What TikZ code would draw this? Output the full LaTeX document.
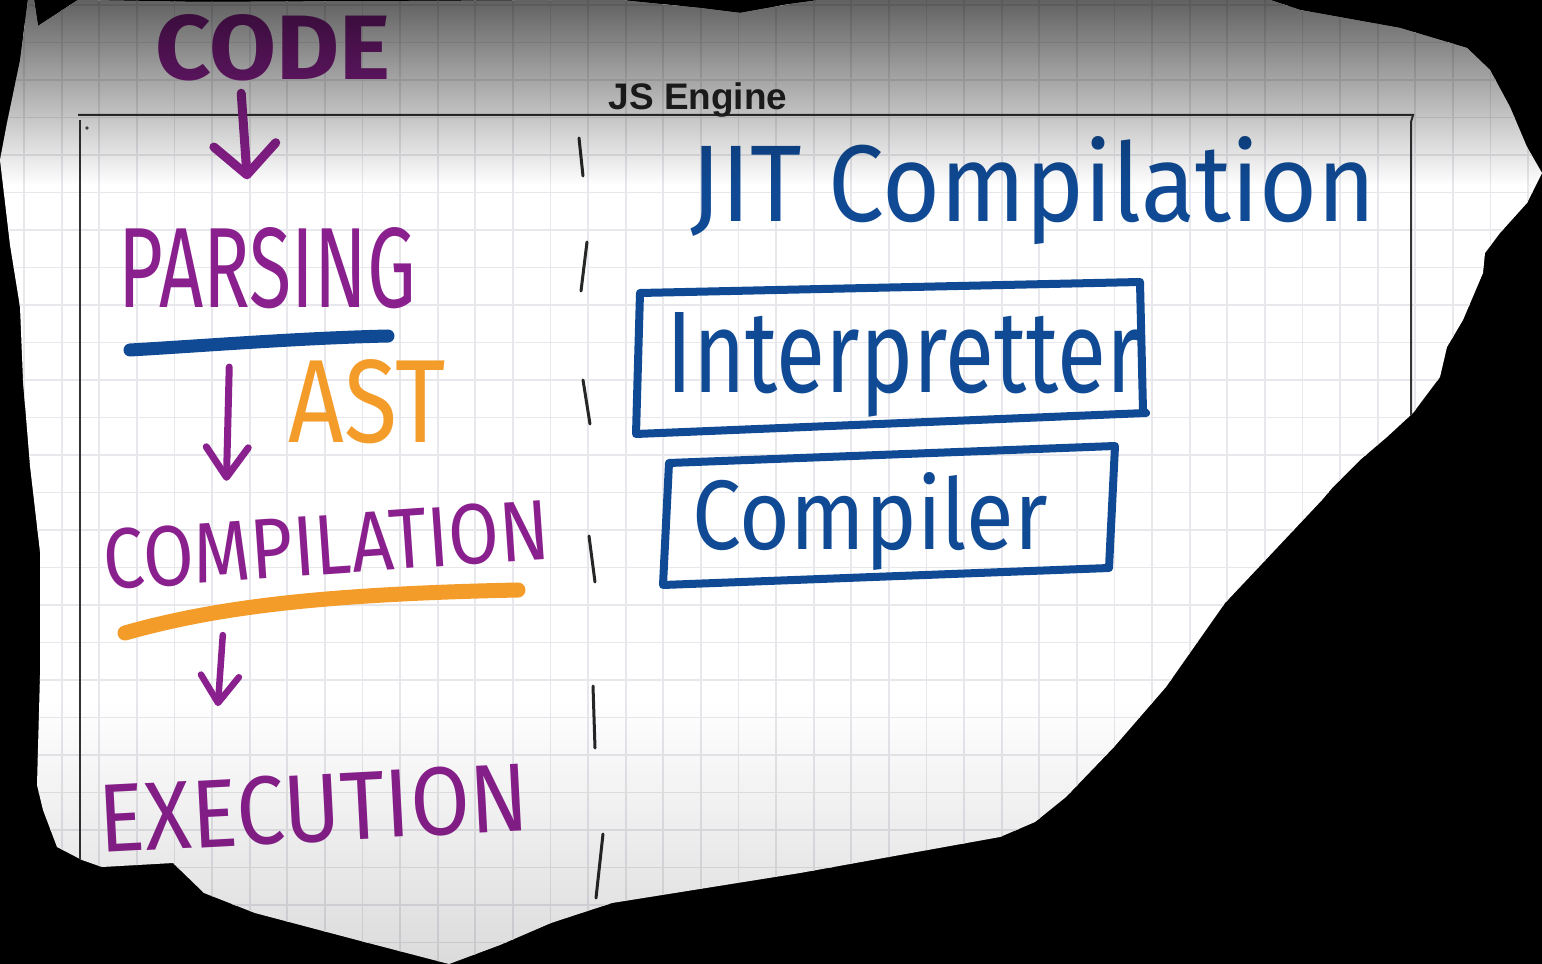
\documentclass[tikz,border=0pt]{standalone}
\usepackage{fontspec}
\usepackage{graphicx}
\setsansfont{Liberation Sans}
\newfontfamily\handfont{Fira Sans}
\usetikzlibrary{arrows.meta,fadings}

\definecolor{inkpurple}{RGB}{138,32,142}
\definecolor{inkblue}{RGB}{16,74,148}
\definecolor{inkorange}{RGB}{244,156,42}
\definecolor{gridgray}{RGB}{232,232,236}

\newlength\pxu
\setlength\pxu{0.01cm}
% handwritten word squeezed to a given width and height (in px)
\newcommand{\inkword}[3]{\resizebox{#1\pxu}{#2\pxu}{\handfont #3}}
\newcommand{\paperoutline}{(28,0) -- (34,0) -- (38,26) -- (78,0) -- (200,2) -- (620,0) -- (700,8) -- (740,13) -- (790,4) -- (820,0) -- (1270,0) -- (1300,10) -- (1400,28) -- (1467,48) -- (1490,70) -- (1510,107) -- (1527,147) -- (1542,173) -- (1527,203) -- (1500,233) -- (1485,253) -- (1483,273) -- (1463,320) -- (1447,347) -- (1440,377) -- (1413,413) -- (1387,437) -- (1360,460) -- (1333,487) -- (1322,500) -- (1225,603) -- (1166,687) -- (1114,747) -- (1066,797) -- (1035,822) -- (1000,837) -- (800,873) -- (612,903) -- (551,923) -- (500,945) -- (449,964) -- (357,940) -- (255,913) -- (204,893) -- (173,863) -- (102,867) -- (82,860) -- (57,847) -- (43,810) -- (37,785) -- (40,675) -- (40,552) -- (30,466) -- (23,380) -- (20,307) -- (10,245) -- (0,160) -- (7,123) -- (20,61) -- cycle}

\begin{document}
\begin{tikzpicture}[x=0.01cm,y=-0.01cm,
    word/.style={inner sep=0pt,anchor=base west},
    gridline/.style={gridgray,line width=0.018cm},
    divider/.style={black!85,line width=0.03cm,line cap=round},
    penarrow/.style={inkpurple,line cap=round,line join=round},
    jitbox/.style={inkblue,line width=0.08cm,line join=round,line cap=round}]
  \useasboundingbox (0,0) rectangle (1542,964);
  \fill[black] (0,0) rectangle (1542,964);
  \fill[white] \paperoutline;

  \begin{scope}
    \clip \paperoutline;
    % squared paper
    \foreach \i in {0,...,40}
      \draw[gridline] ({24+37.6*\i},0) -- ({24+37.6*\i},964);
    \foreach \j in {0,...,25}
      \draw[gridline] (0,{5+37.5*\j}) -- (1542,{5+37.5*\j});

    % engine frame
    \draw[black!80,line width=0.02cm] (78,115) -- (1413,115) -- (1411,122) -- (1411,440);
    \draw[black!80,line width=0.02cm] (80,120) -- (80,862);
    \fill[black!70] (87,128) circle[radius=0.5pt];
    \node[font=\sffamily\bfseries\fontsize{10.5}{12}\selectfont,text=black!85,anchor=base] (title) at (698,110) {JS Engine};

    % left column
    \node[word] (code) at (155,80) {\inkword{235}{65}{\color{inkpurple}\bfseries CODE}};
    \node[word] (parsing) at (118,308) {\inkword{297}{80}{\color{inkpurple}PARSING}};
    \node[word] (ast) at (288,443) {\inkword{157}{83}{\color{inkorange}AST}};
    \node[word,rotate=4] (compilation) at (105,590) {\inkword{447}{60}{\color{inkpurple}COMPILATION}};
    \node[word,rotate=3] (execution) at (100,853) {\inkword{430}{68}{\color{inkpurple}EXECUTION}};

    \draw[inkblue,line width=0.13cm,line cap=round] (130,350) .. controls (200,346) and (300,338) .. (388,336);
    \draw[inkorange,line width=0.15cm,line cap=round] (125,633) .. controls (220,606) and (330,594) .. (518,590);

    \draw[penarrow,line width=0.09cm,-{Straight Barb[round,length=0.3cm,width=0.62cm]}] ([shift={(-32,11)}]code.south) -- ([shift={(-20,-48)}]parsing.north);
    \draw[penarrow,line width=0.07cm,-{Straight Barb[round,length=0.3cm,width=0.42cm]}] ([shift={(-38,57)}]parsing.south) -- ([shift={(-98,-33)}]compilation.north);
    \draw[penarrow,line width=0.065cm,-{Straight Barb[round,length=0.27cm,width=0.38cm]}] ([shift={(-106,59)}]compilation.south) -- ([shift={(-94,-67)}]execution.north);

    % dashed divider
    \foreach \xa/\ya/\xb/\yb in {579/138/583/176, 587/242/581/291, 583/380/590/424, 589/536/595/582, 593/686/595/748, 603/834/596/898}
      \draw[divider] (\xa,\ya) -- (\xb,\yb);

    % right column
    \node[word] (jit) at (690,222) {\inkword{685}{85}{\color{inkblue}JIT Compilation}};
    \draw[jitbox] (640,293) -- (1140,282) -- (1143,411) -- (1146,413) -- (636,434) -- cycle;
    \node[word] (interp) at (666,393) {\inkword{474}{80}{\color{inkblue}Interpretter}};
    \draw[jitbox] (669,463) -- (1115,446) -- (1109,568) -- (663,585) -- cycle;
    \node[word] (compiler) at (692,550) {\inkword{355}{77}{\color{inkblue}Compiler}};

    % shadow over the sheet (y axis is flipped, so the fadings are too)
    \fill[black,opacity=0.62,path fading=south] (0,0) rectangle (1542,185);
    \fill[black,opacity=0.14,path fading=north] (0,700) rectangle (1542,964);
  \end{scope}
\end{tikzpicture}
\end{document}
